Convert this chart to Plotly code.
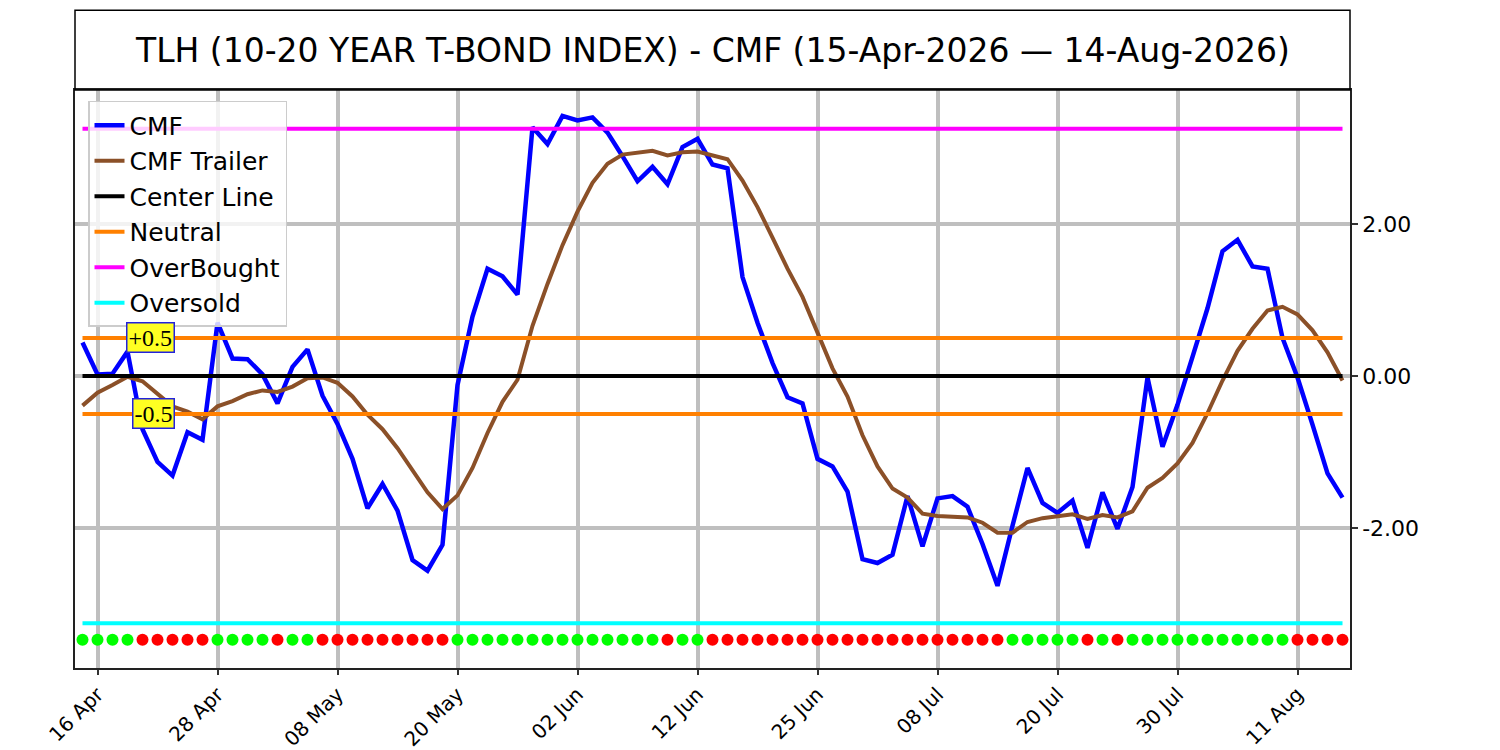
import pandas as pd
import plotly.graph_objects as go

# trading days 15-Apr-2026 .. 14-Aug-2026 (US market holidays removed)
market_holidays = ['2026-05-25', '2026-06-19', '2026-07-03']
dates = [d.strftime('%Y-%m-%d') for d in
         pd.bdate_range('2026-04-15', '2026-08-14', freq='C', holidays=market_holidays)]

tick_dates = ['2026-04-16', '2026-04-28', '2026-05-08', '2026-05-20', '2026-06-02', '2026-06-12',
              '2026-06-25', '2026-07-08', '2026-07-20', '2026-07-30', '2026-08-11']
tick_labels = ['16 Apr', '28 Apr', '08 May', '20 May', '02 Jun', '12 Jun',
               '25 Jun', '08 Jul', '20 Jul', '30 Jul', '11 Aug']

cmf = [0.44, 0.02, 0.03, 0.32, -0.70, -1.13, -1.31, -0.74, -0.84, 0.70,
       0.23, 0.22, 0.02, -0.36, 0.12, 0.35, -0.26, -0.63, -1.09, -1.74,
       -1.42, -1.77, -2.42, -2.56, -2.22, -0.12, 0.78, 1.41, 1.31, 1.07,
       3.27, 3.05, 3.42, 3.36, 3.40, 3.20, 2.89, 2.56, 2.75, 2.52,
       3.01, 3.12, 2.78, 2.73, 1.30, 0.70, 0.17, -0.28, -0.36, -1.09,
       -1.19, -1.52, -2.41, -2.46, -2.35, -1.58, -2.24, -1.61, -1.58, -1.72,
       -2.21, -2.76, -1.97, -1.21, -1.67, -1.80, -1.64, -2.26, -1.53, -2.01,
       -1.46, -0.02, -0.93, -0.38, 0.25, 0.89, 1.64, 1.79, 1.44, 1.41,
       0.50, -0.02, -0.64, -1.28, -1.60]

cmf_trailer = [-0.39, -0.22, -0.12, -0.01, -0.07, -0.24, -0.40, -0.47, -0.57, -0.40,
               -0.33, -0.24, -0.19, -0.21, -0.14, -0.03, -0.02, -0.09, -0.27, -0.51,
               -0.70, -0.95, -1.24, -1.53, -1.75, -1.57, -1.21, -0.75, -0.34, -0.05,
               0.66, 1.21, 1.72, 2.16, 2.54, 2.79, 2.91, 2.94, 2.96, 2.90,
               2.94, 2.95, 2.90, 2.85, 2.57, 2.22, 1.82, 1.41, 1.04, 0.57,
               0.10, -0.27, -0.78, -1.19, -1.48, -1.60, -1.81, -1.84, -1.85, -1.86,
               -1.93, -2.06, -2.06, -1.92, -1.87, -1.85, -1.82, -1.88, -1.83, -1.86,
               -1.78, -1.47, -1.34, -1.15, -0.88, -0.49, -0.06, 0.33, 0.62, 0.86,
               0.91, 0.81, 0.60, 0.31, -0.06]

# G = CMF above trailer, R = below
signal = ('GGGG' 'RRRRR' 'GGGG' 'R' 'GG' 'RRRRRRRRR' 'GGGGGGGGGGGGGG' 'R' 'GG'
          'RRRRRRRRRRRRRRRRRRRR' 'GGGGG' 'R' 'G' 'R' 'GGGGGGGGGGG' 'RRRR')

center = 0.0
neutral = 0.5
overbought = 3.25
oversold = -3.25
dot_level = -3.47

n = len(dates)
font = 'DejaVu Sans'

fig = go.Figure()

def hline(y, color, name, show=True):
    fig.add_trace(go.Scatter(x=dates, y=[y] * n, mode='lines', name=name,
                             line=dict(color=color, width=4), showlegend=show,
                             legendgroup=name + str(show), hoverinfo='skip'))

fig.add_trace(go.Scatter(x=dates, y=cmf, mode='lines', name='CMF',
                         line=dict(color='#0000ff', width=4.5), legendgroup='cmf'))
fig.add_trace(go.Scatter(x=dates, y=cmf_trailer, mode='lines', name='CMF Trailer',
                         line=dict(color='#8b5028', width=4), legendgroup='trailer'))
hline(center, '#000000', 'Center Line')
hline(neutral, '#ff8000', 'Neutral')
hline(-neutral, '#ff8000', 'Neutral', show=False)
hline(overbought, '#ff00ff', 'OverBought')
hline(oversold, '#00ffff', 'Oversold')

fig.add_trace(go.Scatter(
    x=dates, y=[dot_level] * n, mode='markers', showlegend=False, hoverinfo='skip',
    marker=dict(size=12, color=['#00ff00' if s == 'G' else '#ff0000' for s in signal])))

for lvl, txt in [(neutral, '+0.5'), (-neutral, '-0.5')]:
    fig.add_annotation(x=dates[6], y=lvl, text=txt, showarrow=False, xanchor='right',
                       xshift=2,
                       font=dict(family='Liberation Serif', size=24, color='black'),
                       bgcolor='#ffff22', bordercolor='#2222dd', borderwidth=1.5, borderpad=1)

# title box
fig.add_shape(type='rect', xref='paper', yref='paper', x0=0, x1=1, y0=1, y1=1.138,
              line=dict(color='black', width=1.5))
fig.add_annotation(xref='paper', yref='paper', x=0.5, y=1.069, yanchor='middle',
                   showarrow=False,
                   text='TLH (10-20 YEAR T-BOND INDEX) - CMF (15-Apr-2026 \u2014 14-Aug-2026)',
                   font=dict(family=font, size=33, color='black'))

# page body has an 8px margin, so margins are shifted to land the plot box in place
fig.update_layout(
    width=1500, height=750,
    margin=dict(l=67, r=158, t=82, b=90),
    paper_bgcolor='white', plot_bgcolor='white',
    font=dict(family=font, size=20, color='black'),
    showlegend=True,
    legend=dict(x=0.0102, y=0.981, xanchor='left', yanchor='top',
                bgcolor='rgba(255,255,255,0.8)', bordercolor='#cccccc', borderwidth=1.5,
                font=dict(family=font, size=25), traceorder='grouped', tracegroupgap=0),
)
fig.update_xaxes(type='category', range=[-0.5, n - 0.5], automargin=False,
                 tickvals=tick_dates, ticktext=tick_labels, tickangle=-45,
                 ticks='outside', ticklen=5, tickwidth=1.5, tickcolor='#333333',
                 tickfont=dict(size=20),
                 showgrid=True, gridcolor='#bfbfbf', gridwidth=4,
                 showline=True, linecolor='#222222', linewidth=1.5, mirror=True, zeroline=False)
fig.update_yaxes(side='right', range=[-3.84, 3.76], tickvals=[-2, 0, 2], automargin=False,
                 ticktext=['-2.00', '0.00', '2.00'], ticks='outside', ticklen=6, tickwidth=1.5,
                 tickcolor='#333333', tickfont=dict(size=22),
                 showgrid=True, gridcolor='#bfbfbf', gridwidth=4,
                 showline=True, linecolor='#222222', linewidth=1.5, mirror=True, zeroline=False)

fig.write_html('out.html')
